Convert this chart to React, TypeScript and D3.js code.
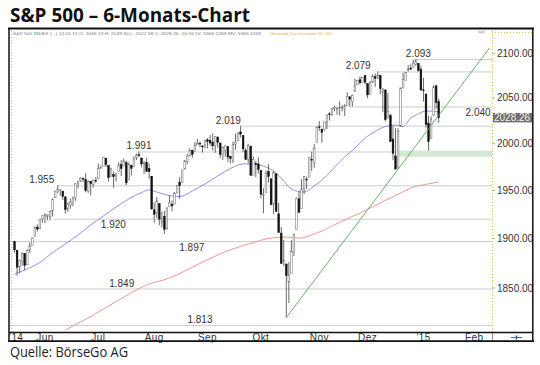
import * as d3 from "d3";

// trading-day index: 0 = 02.06.2014, first bar = 14.05.2014, last bar = 12.01.2015
const FIRST_DAY = -12;

// daily OHLC, May 2014 .. Jan 2015 (one line per month)
const open = [
  1897.1, 1888.2, 1871.2, 1876.7, 1884.9, 1873.3, 1888.2, 1893.3, 1902.0, 1911.8, 1910.6, 1920.3,
  1923.9, 1923.1, 1923.1, 1928.5, 1942.4, 1948.9, 1950.3, 1949.4, 1943.4, 1930.8, 1934.8, 1937.2, 1942.7, 1957.5, 1960.5, 1962.9, 1961.8, 1949.3, 1959.9, 1956.6, 1960.8,
  1962.3, 1973.1, 1975.9, 1984.2, 1976.4, 1965.1, 1966.7, 1965.8, 1969.9, 1977.4, 1976.4, 1979.8, 1961.5, 1976.9, 1975.7, 1985.3, 1988.1, 1984.6, 1978.3, 1980.0, 1973.2, 1965.1,
  1929.8, 1926.6, 1936.3, 1917.3, 1923.0, 1910.4, 1933.4, 1935.7, 1935.6, 1947.4, 1958.9, 1958.4, 1972.7, 1980.5, 1986.8, 1992.6, 1991.7, 1998.6, 2000.5, 1997.4, 1998.5,
  2004.1, 2003.6, 2001.7, 1998.0, 2007.2, 2000.7, 1988.4, 1992.9, 1996.7, 1986.0, 1981.9, 1999.3, 2003.1, 2012.7, 2009.1, 1992.8, 1983.3, 1997.3, 1966.2, 1978.9, 1978.2,
  1971.4, 1945.8, 1948.1, 1970.0, 1962.4, 1935.6, 1967.7, 1925.6, 1905.7, 1877.1, 1874.2, 1855.9, 1864.9, 1885.6, 1909.4, 1941.3, 1931.0, 1951.6, 1962.0, 1964.1, 1983.3, 1979.5, 2001.2,
  2018.2, 2015.8, 2015.3, 2023.3, 2032.4, 2032.0, 2038.2, 2037.8, 2039.2, 2039.7, 2038.3, 2041.5, 2051.2, 2045.9, 2057.5, 2065.1, 2070.2, 2067.0, 2074.8,
  2065.8, 2053.8, 2067.5, 2073.6, 2072.8, 2074.8, 2056.6, 2058.9, 2027.9, 2030.4, 2005.0, 1986.7, 1973.8, 2018.9, 2061.0, 2069.3, 2081.5, 2083.3, 2084.3, 2087.6, 2088.5, 2082.1,
  2058.9, 2054.4, 2022.2, 2005.6, 2030.6, 2063.5, 2046.1,
];
const high = [
  1897.1, 1888.2, 1878.3, 1886.0, 1884.9, 1888.8, 1896.3, 1901.3, 1912.3, 1914.5, 1920.0, 1924.0,
  1925.9, 1925.1, 1928.6, 1941.7, 1949.4, 1955.6, 1950.9, 1949.4, 1943.4, 1937.3, 1941.2, 1943.7, 1957.7, 1959.9, 1963.9, 1963.7, 1968.2, 1960.8, 1959.9, 1961.5, 1964.2,
  1978.6, 1976.7, 1985.6, 1984.2, 1976.4, 1974.2, 1969.8, 1968.7, 1979.9, 1982.5, 1983.9, 1981.8, 1979.9, 1976.9, 1986.2, 1989.2, 1991.4, 1984.6, 1981.5, 1984.9, 1978.9, 1965.1,
  1937.4, 1942.9, 1936.3, 1927.9, 1928.9, 1932.4, 1944.9, 1939.7, 1948.4, 1955.2, 1964.0, 1971.9, 1982.6, 1988.6, 1994.8, 1993.5, 2001.9, 2005.0, 2002.1, 1998.6, 2003.4,
  2006.1, 2009.3, 2011.2, 2007.7, 2007.2, 2001.0, 1996.7, 1997.7, 1996.7, 1987.2, 2002.3, 2010.7, 2012.3, 2019.3, 2009.1, 1995.4, 1999.8, 1997.3, 1986.4, 1981.3, 1985.2,
  1971.4, 1952.3, 1971.2, 1977.8, 1962.4, 1970.4, 1967.7, 1936.9, 1912.1, 1898.7, 1874.2, 1876.0, 1898.2, 1905.0, 1942.5, 1949.3, 1961.9, 1965.3, 1964.6, 1985.1, 1991.4, 1999.4, 2018.2,
  2024.5, 2015.8, 2023.8, 2031.6, 2034.3, 2038.7, 2041.3, 2040.3, 2046.2, 2042.2, 2043.1, 2056.1, 2052.1, 2053.8, 2071.5, 2070.2, 2074.2, 2073.4, 2075.8,
  2065.8, 2068.8, 2076.3, 2077.3, 2079.5, 2075.8, 2060.6, 2058.9, 2055.5, 2032.7, 2019.0, 2016.9, 2016.8, 2061.2, 2077.9, 2078.8, 2086.7, 2087.6, 2092.7, 2093.6, 2088.5, 2085.6,
  2072.4, 2054.4, 2030.3, 2029.6, 2064.1, 2064.4, 2049.3,
];
const low = [
  1885.8, 1862.4, 1864.8, 1872.4, 1868.1, 1873.3, 1885.4, 1893.3, 1902.0, 1907.3, 1909.8, 1916.6,
  1915.9, 1918.8, 1918.6, 1922.9, 1942.4, 1947.2, 1944.6, 1940.1, 1925.8, 1927.7, 1930.9, 1933.6, 1939.3, 1952.3, 1959.2, 1958.9, 1948.3, 1947.5, 1944.7, 1953.0, 1958.2,
  1962.3, 1972.6, 1975.9, 1974.9, 1959.5, 1965.1, 1952.9, 1959.6, 1969.9, 1965.3, 1975.7, 1955.6, 1960.8, 1965.8, 1975.7, 1982.4, 1985.8, 1974.4, 1967.3, 1969.9, 1962.4, 1930.0,
  1916.4, 1921.2, 1913.8, 1911.5, 1904.8, 1909.0, 1933.4, 1928.3, 1935.6, 1947.4, 1941.5, 1958.4, 1972.7, 1977.7, 1986.8, 1984.8, 1991.7, 1998.6, 1996.2, 1990.5, 1994.6,
  1994.9, 1998.1, 1992.5, 1990.1, 1995.6, 1984.6, 1982.3, 1985.9, 1980.3, 1978.5, 1979.1, 1993.3, 2003.1, 2006.6, 1991.0, 1982.8, 1978.6, 1965.5, 1966.2, 1964.0, 1968.0,
  1941.7, 1926.0, 1948.1, 1958.4, 1935.1, 1925.3, 1927.6, 1906.1, 1874.1, 1871.8, 1820.7, 1835.0, 1864.9, 1882.3, 1909.4, 1926.8, 1931.0, 1946.3, 1951.4, 1964.1, 1970.9, 1974.2, 2001.2,
  2013.7, 2001.0, 2014.0, 2015.9, 2025.1, 2030.2, 2035.3, 2031.3, 2030.4, 2035.2, 2030.2, 2041.5, 2040.4, 2040.5, 2056.8, 2065.1, 2064.8, 2066.9, 2065.1,
  2049.6, 2053.8, 2066.7, 2062.3, 2070.8, 2054.3, 2034.2, 2024.3, 2027.9, 2002.3, 1982.3, 1972.6, 1973.8, 2018.9, 2061.0, 2069.3, 2079.5, 2081.9, 2084.3, 2085.8, 2079.5, 2057.9,
  2046.0, 2017.3, 1992.4, 2005.6, 2030.6, 2038.3, 2022.6,
];
const close = [
  1888.5, 1870.9, 1877.9, 1885.1, 1872.8, 1888.0, 1892.5, 1900.5, 1911.9, 1909.8, 1920.0, 1923.6,
  1925.0, 1924.2, 1927.9, 1940.5, 1949.4, 1951.3, 1950.8, 1943.9, 1930.1, 1936.2, 1937.8, 1942.0, 1957.0, 1959.5, 1962.9, 1962.6, 1950.0, 1959.5, 1957.2, 1961.0, 1960.2,
  1973.3, 1974.6, 1985.4, 1977.7, 1963.7, 1972.8, 1964.7, 1967.6, 1977.1, 1973.3, 1981.6, 1958.1, 1978.2, 1973.6, 1983.5, 1987.0, 1988.0, 1978.3, 1978.9, 1970.0, 1970.1, 1930.7,
  1925.2, 1939.0, 1920.2, 1920.2, 1909.6, 1931.6, 1936.9, 1933.8, 1946.7, 1955.2, 1955.1, 1971.7, 1981.6, 1986.5, 1992.4, 1988.4, 1997.9, 2000.0, 2000.1, 1996.7, 2003.4,
  2002.3, 2000.7, 1997.7, 2007.7, 2001.5, 1988.4, 1995.7, 1997.5, 1985.5, 1984.1, 1999.0, 2001.6, 2011.4, 2010.4, 1994.3, 1982.8, 1998.3, 1966.0, 1982.9, 1977.8, 1972.3,
  1946.2, 1946.2, 1967.9, 1964.8, 1935.1, 1968.9, 1928.2, 1906.1, 1874.7, 1877.7, 1862.5, 1862.8, 1886.8, 1904.0, 1941.3, 1927.1, 1950.8, 1964.6, 1961.6, 1985.1, 1982.3, 1994.7, 2018.1,
  2017.8, 2012.1, 2023.6, 2031.2, 2031.9, 2038.3, 2039.7, 2038.3, 2039.3, 2039.8, 2041.3, 2051.8, 2048.7, 2052.8, 2063.5, 2069.4, 2067.0, 2072.8, 2067.6,
  2053.4, 2066.6, 2074.3, 2071.9, 2075.4, 2060.3, 2059.8, 2026.1, 2035.3, 2002.3, 1989.6, 1972.7, 2012.9, 2061.2, 2070.7, 2078.5, 2082.2, 2081.9, 2088.8, 2090.6, 2080.4, 2058.9,
  2058.2, 2020.6, 2002.6, 2025.9, 2062.1, 2044.8, 2028.3,
];
const lastPrice = 2028.26;

// moving averages (trading-day index, value)
const ma50Day = [-12, -7, -2, 3, 8, 13, 18, 23, 28, 33, 38, 41, 44, 48, 53, 58, 63, 68, 73, 78, 83, 87, 90, 93, 96, 99, 102, 106, 110, 114, 118, 122, 126, 130, 134, 138, 141, 144, 147, 150, 155];
const ma50Val = [1864.0, 1869.1, 1875.7, 1885.7, 1894.5, 1903.7, 1914.0, 1923.4, 1932.7, 1941.1, 1947.9, 1950.6, 1948.4, 1945.3, 1943.7, 1949.5, 1956.9, 1965.4, 1973.3, 1978.2, 1977.7, 1974.9, 1970.7, 1963.2, 1953.7, 1949.5, 1948.4, 1954.8, 1963.2, 1974.9, 1985.6, 1995.1, 2005.8, 2013.2, 2018.6, 2020.2, 2018.6, 2027.9, 2032.3, 2035.6, 2034.5];
const ma200Day = [8, 19, 29, 40, 49, 60, 71, 81, 89, 95, 100, 108, 116, 124, 132, 140, 145, 150, 155];
const ma200Val = [1808.5, 1823.2, 1838.0, 1853.0, 1860.0, 1873.5, 1886.6, 1895.2, 1900.6, 1901.6, 1900.6, 1906.8, 1916.8, 1926.5, 1936.9, 1947.4, 1953.7, 1956.5, 1959.0];

// trend line from the October low, support zone
const trendDay = [95, 175];
const trendVal = [1820.7, 2106];
const zoneDay = 139;
const zoneVal = [1986, 1992.5];

// marked levels
const levels = [2093, 2079, 2040, 2019, 1991, 1955, 1920, 1897, 1849, 1813];
const levelFromDay = [146, 131, 120, 77, 36, 5, 3, -14, -14, -14];
const labelDay = [147, 123.3, 170.5, 72.2, 37, -1.3, 26.9, 57.8, 30.2, 61];
const labelBelow = [false, false, true, false, false, false, true, true, false, false];

const yTicks = [1850, 1900, 1950, 2000, 2050, 2100];
const monthLabels = ["’14", "Jun", "Jul", "Aug", "Sep", "Okt", "Nov", "Dez", "’15", "Feb"];
const monthDays = [-11.4, 0, 21, 43, 64, 85, 108, 127, 149, 169];

const de = d3.formatLocale({ decimal: ",", thousands: ".", grouping: [3], currency: ["", "€"] });
const fmtLevel = de.format(",");
const fmtTick = d3.format(".2f");

const W = 540;
const H = 365;
const plot = { left: 10, right: 492, top: 30, bottom: 332 };
const FONT = "'Liberation Sans', Arial, sans-serif";

export default function App() {
  const x = d3.scaleLinear().domain([0, 169]).range([45, 474.26]);
  const y = d3.scaleLog().domain([1850, 2100]).range([288, 53.3]);

  const ma = d3
    .line<[number, number]>()
    .x((d) => x(d[0]))
    .y((d) => y(d[1]))
    .curve(d3.curveMonotoneX);

  const ma50 = ma(ma50Day.map((d, i) => [d, ma50Val[i]]));
  const ma200 = ma(ma200Day.map((d, i) => [d, ma200Val[i]]));

  const bw = 1.7;

  return (
    <svg
      width={W}
      height={H}
      viewBox={`0 0 ${W} ${H}`}
      style={{ position: "absolute", left: 0, top: 0, background: "#fff" }}
    >
      <defs>
        <clipPath id="plotClip">
          <rect x={plot.left} y={plot.top} width={plot.right - plot.left} height={plot.bottom - plot.top} />
        </clipPath>
      </defs>

      {/* title */}
      <text x={10} y={21.7} fontFamily="'Open Sans', sans-serif" fontWeight={700} fontSize={20} fill="#111" textLength={240} lengthAdjust="spacingAndGlyphs">
        S&amp;P 500 – 6-Monats-Chart
      </text>

      {/* header line inside the frame */}
      <text x={13} y={34.5} fontFamily={FONT} fontSize={4.2} fill="#777" textLength={248} lengthAdjust="spacingAndGlyphs">
        S&amp;P 500 INDEX (...) 12.01.15 O: 2046.13 H: 2049.30 L: 2022.58 C: 2028.26 -16.55 LV: 5366.1269 MV: 5366.1269
      </text>
      <text x={270} y={34.5} fontFamily={FONT} fontSize={4.2} fill="#d6b23c" textLength={62} lengthAdjust="spacingAndGlyphs">
        Gleitende Durchschnitte 50, 200
      </text>
      <text x={478} y={33} fontFamily={FONT} fontSize={4} fill="#888">
        tägl.
      </text>

      <g clipPath="url(#plotClip)">
        {/* level lines */}
        {levels.map((v, i) => (
          <line key={`lv${i}`} x1={Math.max(plot.left, x(levelFromDay[i]))} x2={plot.right} y1={y(v)} y2={y(v)} stroke="#cdcdcd" strokeWidth={1} />
        ))}

        {/* support zone */}
        <rect x={x(zoneDay)} y={y(zoneVal[1])} width={plot.right - x(zoneDay)} height={y(zoneVal[0]) - y(zoneVal[1])} fill="#d2e8d2" />

        {/* moving averages */}
        <path d={ma200 ?? ""} fill="none" stroke="#ea8c8c" strokeWidth={0.9} />
        <path d={ma50 ?? ""} fill="none" stroke="#8585e0" strokeWidth={0.9} />

        {/* candles */}
        {close.map((c, i) => {
          const day = FIRST_DAY + i;
          const cx = x(day);
          const o = open[i];
          const up = c >= o;
          const top = y(Math.max(o, c));
          const bot = y(Math.min(o, c));
          return (
            <g key={`c${i}`}>
              <line x1={cx} x2={cx} y1={y(high[i])} y2={y(low[i])} stroke="#444" strokeWidth={0.8} />
              <rect
                x={cx - bw / 2}
                y={top}
                width={bw}
                height={Math.max(0.8, bot - top)}
                fill={up ? "#fff" : "#111"}
                stroke={up ? "#666" : "#111"}
                strokeWidth={0.5}
              />
            </g>
          );
        })}

        {/* trend line */}
        <line x1={x(trendDay[0])} y1={y(trendVal[0])} x2={x(trendDay[1])} y2={y(trendVal[1])} stroke="#55ad55" strokeWidth={0.9} />

        {/* level labels */}
        {levels.map((v, i) => (
          <text
            key={`lt${i}`}
            x={x(labelDay[i])}
            y={y(v) + (labelBelow[i] ? 5.5 : -6)}
            dy="0.35em"
            textAnchor="middle"
            fontFamily={FONT}
            fontSize={10}
            fill="#333"
          >
            {fmtLevel(v)}
          </text>
        ))}
      </g>

      {/* right axis panel */}
      <line x1={plot.right + 0.5} x2={plot.right + 0.5} y1={31} y2={plot.bottom} stroke="#e2c35a" strokeWidth={1} strokeDasharray="1,2" />
      <line x1={plot.right} x2={532} y1={32.5} y2={32.5} stroke="#e2c35a" strokeWidth={1} strokeDasharray="1,2" />
      {yTicks.map((t) => (
        <g key={`yt${t}`}>
          <line x1={plot.right} x2={plot.right + 3} y1={y(t)} y2={y(t)} stroke="#999" strokeWidth={0.8} />
          <text x={497} y={y(t)} dy="0.35em" fontFamily={FONT} fontSize={10} fill="#333">
            {fmtTick(t)}
          </text>
        </g>
      ))}
      <rect x={493} y={y(lastPrice) - 4.7} width={39} height={9.4} fill="#6e6e6e" />
      <text x={494} y={y(lastPrice)} dy="0.35em" fontFamily={FONT} fontSize={10} fill="#f2f2f2">
        {fmtTick(lastPrice)}
      </text>

      {/* left dotted edge */}
      <line x1={11.5} x2={11.5} y1={31} y2={plot.bottom} stroke="#aaa" strokeWidth={0.8} strokeDasharray="1,2" />

      {/* month labels */}
      {monthLabels.map((m, i) => (
        <text key={`m${i}`} x={x(monthDays[i])} y={340.5} textAnchor="middle" fontFamily={FONT} fontSize={10} letterSpacing={0.4} fill="#333">
          {m}
        </text>
      ))}
      <line x1={plot.right + 0.5} x2={plot.right + 0.5} y1={plot.bottom} y2={341} stroke="#777" strokeWidth={0.8} />
      <line x1={511} x2={522} y1={337.5} y2={337.5} stroke="#2b47a3" strokeWidth={0.8} />
      <line x1={516.5} x2={516.5} y1={335.5} y2={339.5} stroke="#2b47a3" strokeWidth={1.4} />

      {/* frame */}
      <line x1={8} x2={534} y1={28.5} y2={28.5} stroke="#111" strokeWidth={2} />
      <line x1={9} x2={9} y1={28} y2={342} stroke="#111" strokeWidth={1.5} />
      <line x1={532.8} x2={532.8} y1={28} y2={342} stroke="#111" strokeWidth={1.5} />
      <line x1={9} x2={533} y1={plot.bottom + 0.5} y2={plot.bottom + 0.5} stroke="#111" strokeWidth={1.5} />
      <line x1={8} x2={534} y1={341.2} y2={341.2} stroke="#111" strokeWidth={1.8} />

      {/* source */}
      <text x={10} y={357} fontFamily="'Open Sans', sans-serif" fontSize={14} fill="#222" textLength={118} lengthAdjust="spacingAndGlyphs">
        Quelle: BörseGo AG
      </text>
    </svg>
  );
}
